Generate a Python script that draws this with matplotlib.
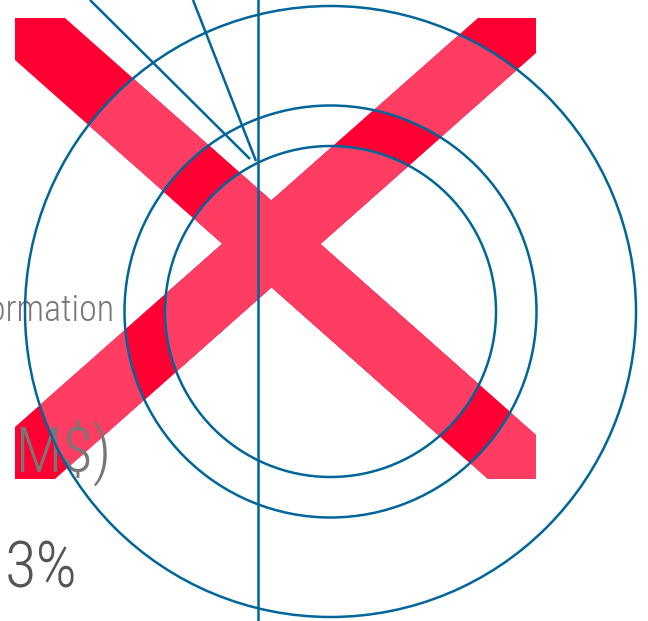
import matplotlib
matplotlib.use("Agg")
import matplotlib.pyplot as plt
from matplotlib.patches import Polygon, Circle
from matplotlib import font_manager

# ---- data ----
ring_radii = [165.5, 206.0, 305.5]          # inner, middle, outer rings
ring_center = (330.5, 311.5)
bar_a = [(15, 18), (65, 18), (536, 435), (536, 479), (488, 479), (15, 60)]
bar_b = [(478, 18), (536, 18), (536, 53), (55, 479), (15, 479), (15, 427)]
pointer_lines = [((90, 0), (250, 159)), ((193, 0), (256, 161))]
vertical_x = 257.5
labels = ["Information", "(3 M$)", "3%"]

RED = "#FF0033"
PINK = "#FF3D62"
BLUE = "#00669A"

names = {f.name for f in font_manager.fontManager.ttflist}
fam = [n for n in ["Roboto Condensed", "Barlow Condensed", "Archivo Narrow",
                   "Liberation Sans Narrow", "DejaVu Sans"] if n in names]

fig = plt.figure(figsize=(6.48, 6.21), dpi=100)
ax = fig.add_axes([0, 0, 1, 1])
ax.set_xlim(0, 648)
ax.set_ylim(621, 0)
ax.axis("off")


def draw_x(color, clip_r=None, z=1):
    for pts in (bar_a, bar_b):
        p = Polygon(pts, closed=True, facecolor=color, edgecolor="none", zorder=z)
        ax.add_patch(p)
        if clip_r is not None:
            c = Circle(ring_center, clip_r, transform=ax.transData)
            p.set_clip_path(c)


# alternating fill inside rings
draw_x(RED, None, 1)
draw_x(PINK, ring_radii[2], 2)
draw_x(RED, ring_radii[1], 3)
draw_x(PINK, ring_radii[0], 4)

# texts
ax.text(115, 321, labels[0], ha="right", va="baseline", fontsize=26,
        color="#777777", family=fam, fontweight=300, zorder=5)
ax.text(111, 472, labels[1], ha="right", va="baseline", fontsize=45,
        color="#777777", family=fam, fontweight=300, zorder=5)
ax.text(77, 587, labels[2], ha="right", va="baseline", fontsize=46.5,
        color="#555555", family=fam, fontweight=300, zorder=5)

# rings
for r in ring_radii:
    ax.add_patch(Circle(ring_center, r, facecolor="none", edgecolor=BLUE,
                        linewidth=1.8, zorder=6))

# lines
for (x0, y0), (x1, y1) in pointer_lines:
    ax.plot([x0, x1], [y0, y1], color=BLUE, linewidth=1.8, zorder=6,
            solid_capstyle="butt")
ax.plot([vertical_x, vertical_x], [0, 621], color=BLUE, linewidth=1.8, zorder=6)

fig.savefig("out.png", dpi=100)
